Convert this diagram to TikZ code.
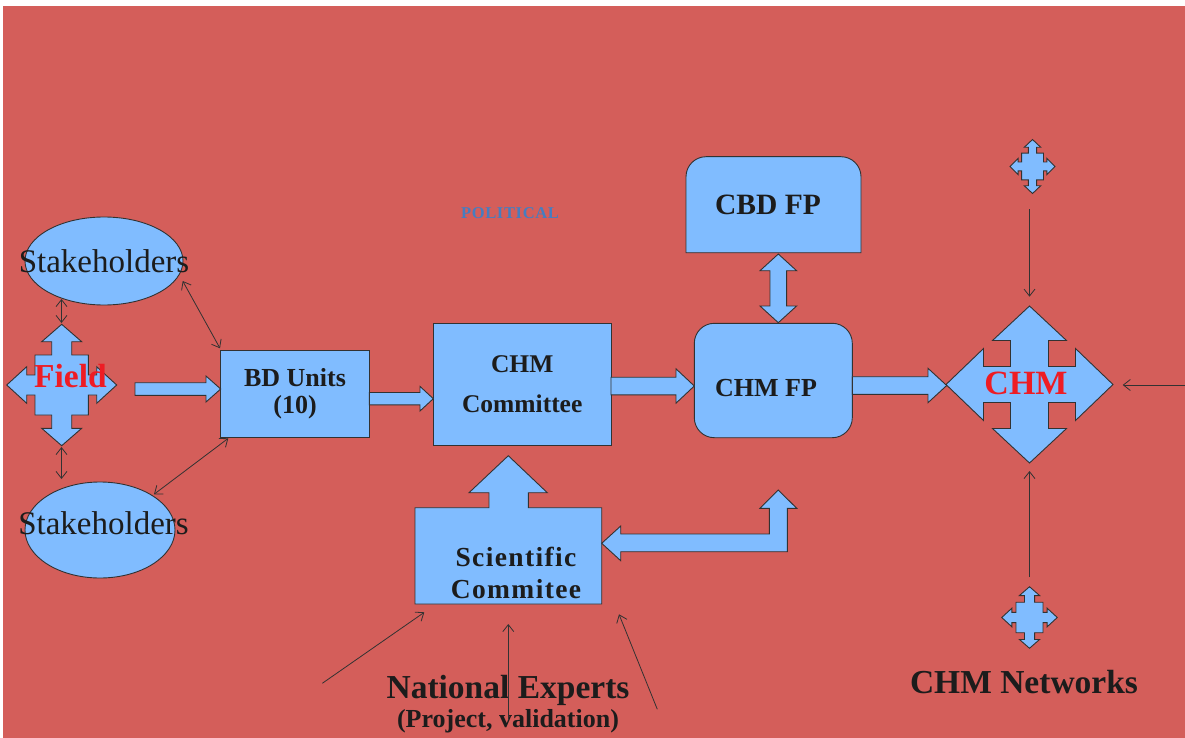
\documentclass[tikz,border=0pt]{standalone}
\usepackage{fontspec}
\setmainfont{Liberation Serif}
\usetikzlibrary{shapes.geometric,arrows.meta}
\definecolor{bgred}{RGB}{212,94,90}
\definecolor{fillblue}{RGB}{128,188,255}
\definecolor{edge}{RGB}{50,50,50}
\definecolor{txt}{RGB}{28,28,28}
\definecolor{redtxt}{RGB}{238,28,36}
\definecolor{poltxt}{RGB}{70,125,192}
\newcommand\fs[2]{\fontsize{#1}{#2}\selectfont}
\tikzset{
  shapebox/.style={draw=edge, fill=fillblue, line width=0.9pt, line join=miter},
  boxnode/.style={shapebox, rectangle, inner sep=0pt, text=txt, font=\bfseries, align=center},
  ell/.style={shapebox, ellipse, inner sep=0pt},
  lbl/.style={inner sep=0pt, text=txt, align=center},
  thinarrow/.style={draw=edge, line width=0.8pt, -{Straight Barb[length=7pt,width=11pt]}},
  thinboth/.style={draw=edge, line width=0.8pt, {Straight Barb[length=7pt,width=11pt]}-{Straight Barb[length=7pt,width=11pt]}},
}
% stepped quad arrow: centre x, centre y, xscale, yscale
\newcommand\stepcross[4]{%
  \draw[shapebox, shift={(#1,#2)}, xscale=#3, yscale=#4]
    (0,-60.7) -- (20,-43.3) -- (10,-43.3) -- (10,-30) -- (26.7,-30) -- (26.7,-10) -- (35,-10) -- (35,-18.3)
    -- (55,0) -- (35,18.3) -- (35,10) -- (26.7,10) -- (26.7,30) -- (10,30) -- (10,43.3) -- (20,43.3)
    -- (0,60.7) -- (-20,43.3) -- (-10,43.3) -- (-10,30) -- (-26.7,30) -- (-26.7,10) -- (-35,10) -- (-35,18.3)
    -- (-55,0) -- (-35,-18.3) -- (-35,-10) -- (-26.7,-10) -- (-26.7,-30) -- (-10,-30) -- (-10,-43.3) -- (-20,-43.3) -- cycle;}
% horizontal block arrow: x start, head base x, tip x, centre y, shaft half, head half
\newcommand\blockarrow[6]{%
  \draw[shapebox] (#1,#4-#5) -- (#2,#4-#5) -- (#2,#4-#6) -- (#3,#4) -- (#2,#4+#6) -- (#2,#4+#5) -- (#1,#4+#5) -- cycle;}
\begin{document}
\begin{tikzpicture}[x=1pt,y=-1pt]
\useasboundingbox (0,0) rectangle (1185,738);
\fill[white] (0,0) rectangle (1185,738);
\fill[bgred] (3,6) rectangle (1185,738);

% stakeholders ellipses
\node[ell, minimum width=158pt, minimum height=88pt] (s1) at (104,261) {};
\node[ell, minimum width=150pt, minimum height=96pt] (s2) at (100,530) {};
\node[lbl, font=\fs{33}{36}] (s1l) at (104,261) {Stakeholders};
\node[lbl, font=\fs{33}{36}] (s2l) at (103.5,523) {Stakeholders};

% field cross
\stepcross{61.7}{385}{1}{1}
\coordinate (fieldN) at (61.5,323);
\coordinate (fieldS) at (61.5,447);
\node[inner sep=0pt, text=redtxt, font=\bfseries\fs{33.5}{36}] (fieldl) at (70.5,376) {Field};

% boxes
\node[boxnode, minimum width=148.6pt, minimum height=87.3pt, font=\bfseries\fs{26}{27.5}] (bd) at (295,393.7) {BD Units\\(10)};
\node[boxnode, minimum width=177.7pt, minimum height=122.4pt, font=\bfseries\fs{25.5}{40}] (chmc) at (522.2,384.5) {CHM\\Committee};
\node[boxnode, rounded corners=20pt, minimum width=158pt, minimum height=114.4pt] (chmfp) at (773.3,380.5) {};
\node[lbl, font=\bfseries\fs{26}{28}] (chmfpl) at (766,388) {CHM FP};

% CBD FP (rounded top corners only)
\draw[shapebox] (686,252.7) [rounded corners=20pt] -- (686,156.7) -- (861,156.7) [sharp corners] -- (861,252.7) -- cycle;
\node[lbl, font=\bfseries\fs{29.5}{32}] (cbd) at (768,205) {CBD FP};

% double arrow CBD <-> CHM FP
\draw[shapebox] (778.3,254) -- (796.6,270.7) -- (786.6,270.7) -- (786.6,306) -- (796.6,306) -- (778.3,322.7)
  -- (760,306) -- (770,306) -- (770,270.7) -- (760,270.7) -- cycle;

% block arrows
\blockarrow{135}{206}{220.7}{389}{6.3}{13}
\blockarrow{369.3}{420}{433.3}{398.7}{6.2}{12.3}
\blockarrow{611}{676}{694.3}{386}{8.8}{17.2}
\blockarrow{852.3}{928}{946.7}{385.5}{8.8}{17.2}

% scientific committee with up arrow
\draw[shapebox] (415,507.7) -- (489,507.7) -- (489,492.7) -- (469,492.7) -- (508.3,455.7) -- (547.3,492.7)
  -- (528.3,492.7) -- (528.3,507.7) -- (601.7,507.7) -- (601.7,604) -- (415,604) -- cycle;
\node[lbl, font=\bfseries\fs{27.5}{32.3}\addfontfeature{LetterSpace=5}] (sci) at (516,573) {Scientific\\Commitee};

% L-shaped arrow
\draw[shapebox] (601.7,543.3) -- (620.7,526) -- (620.7,534) -- (769.3,534) -- (769.3,508.3) -- (760,508.3)
  -- (778.3,490) -- (796.7,508.3) -- (787.3,508.3) -- (787.3,551.7) -- (620.7,551.7) -- (620.7,560.7) -- cycle;

% CHM quad arrow
\draw[shapebox, shift={(1029.5,384.5)}]
  (0,-78.5) -- (37,-44) -- (19,-44) -- (19,-18) -- (46,-18) -- (46,-36) -- (83.5,0) -- (46,36) -- (46,18)
  -- (19,18) -- (19,44) -- (37,44) -- (0,78.5) -- (-37,44) -- (-19,44) -- (-19,18) -- (-46,18) -- (-46,36)
  -- (-83.5,0) -- (-46,-36) -- (-46,-18) -- (-19,-18) -- (-19,-44) -- (-37,-44) -- cycle;
\node[inner sep=0pt, text=redtxt, font=\bfseries\fs{34}{36}] (chml) at (1026,383.5) {CHM};

% small crosses
\stepcross{1032.5}{166.5}{0.41}{0.445}
\stepcross{1029.5}{617.5}{0.505}{0.507}

% labels
\node[inner sep=0pt, text=poltxt, font=\bfseries\fs{16.5}{18}\addfontfeature{LetterSpace=4}] (pol) at (510,213) {POLITICAL};
\node[lbl, font=\bfseries\fs{33.5}{36}] (ne) at (508,690) {National Experts};
\node[lbl, font=\bfseries\fs{26}{28}] (nesub) at (508,721) {(Project, validation)};
\node[lbl, font=\bfseries\fs{33.5}{36}] (net) at (1024,682) {CHM Networks};

% thin connectors
\coordinate (s1b) at (61.5,299);
\coordinate (s2t) at (61.5,479);
\coordinate (s1r) at (182.7,281);
\coordinate (bdnw) at (220,348.3);
\coordinate (s2r) at (154,494.3);
\coordinate (bdsw) at (228.3,438.3);
\draw[thinboth] (s1b) -- (fieldN);
\draw[thinboth] (fieldS) -- (s2t);
\draw[thinboth] (s1r) -- (bdnw);
\draw[thinboth] (s2r) -- (bdsw);

\coordinate (ne1) at (322.3,683.3);
\coordinate (sci1) at (424.3,612.3);
\coordinate (ne2) at (508.3,720);
\coordinate (sci2) at (508.3,624);
\coordinate (ne3) at (657.3,709.3);
\coordinate (sci3) at (619,614.3);
\draw[thinarrow] (ne1) -- (sci1);
\draw[thinarrow] (ne2) -- (sci2);
\draw[thinarrow] (ne3) -- (sci3);

\coordinate (topc) at (1029.5,209.3);
\coordinate (chmN) at (1029.5,296.7);
\coordinate (botc) at (1029.5,577);
\coordinate (chmS) at (1029.5,471);
\coordinate (rightc) at (1185,385);
\coordinate (chmE) at (1122.7,385);
\draw[thinarrow] (topc) -- (chmN);
\draw[thinarrow] (botc) -- (chmS);
\draw[thinarrow] (rightc) -- (chmE);
\end{tikzpicture}
\end{document}
